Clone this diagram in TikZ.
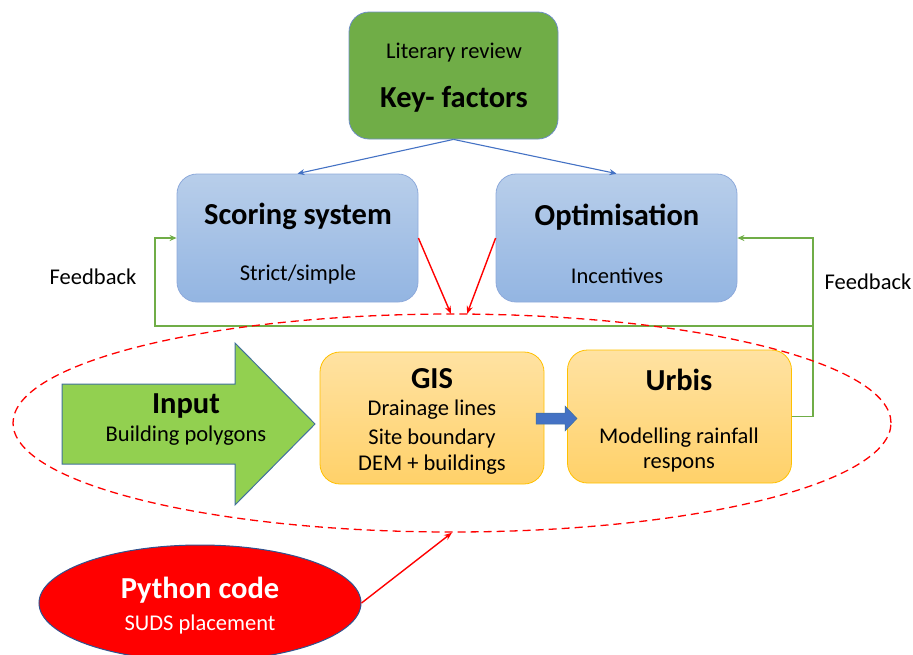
\documentclass[tikz,border=0pt]{standalone}
\usepackage{fontspec}
\setmainfont{Carlito}
\usetikzlibrary{arrows.meta,shapes.geometric}
\definecolor{kgreen}{HTML}{70AD47}
\definecolor{kborder}{HTML}{6E8EC4}
\definecolor{btop}{HTML}{B8CEEA}
\definecolor{bbot}{HTML}{93B5E2}
\definecolor{bborder}{HTML}{8EAADB}
\definecolor{otop}{HTML}{FFE2A2}
\definecolor{obot}{HTML}{FFD169}
\definecolor{oborder}{HTML}{FFC000}
\definecolor{igreen}{HTML}{92D050}
\definecolor{iborder}{HTML}{41719C}
\definecolor{lblue}{HTML}{4472C4}
\definecolor{fbgreen}{HTML}{70AD47}
\definecolor{pborder}{HTML}{2F528F}
\tikzset{
  keybox/.style={draw=kborder, line width=0.8pt, fill=kgreen, rounded corners=20pt, minimum width=209pt, minimum height=127pt},
  bluebox/.style={draw=bborder, line width=0.8pt, top color=btop, bottom color=bbot, rounded corners=20pt, minimum width=241pt, minimum height=128pt},
  orangebox/.style={draw=oborder, line width=0.8pt, top color=otop, bottom color=obot, rounded corners=20pt, minimum width=224pt, minimum height=132pt},
  small/.style={font=\fontsize{22.5}{26}\selectfont, inner sep=0pt},
  big/.style={font=\fontsize{30.5}{34}\selectfont\bfseries, inner sep=0pt},
  mid/.style={font=\fontsize{30.5}{34}\selectfont\bfseries, inner sep=0pt},
  bluearrow/.style={draw=lblue, line width=1.1pt, -{Stealth[length=7pt,width=6pt]}},
  redarrow/.style={draw=red, line width=1.4pt, -{Stealth[length=8pt,width=6pt]}},
  fb/.style={draw=fbgreen, line width=1.4pt},
  fbarrow/.style={draw=fbgreen, line width=1.4pt, -{Stealth[length=7pt,width=6pt]}},
}
\begin{document}
\begin{tikzpicture}[x=1pt,y=-1pt]
\useasboundingbox (0,0) rectangle (913,654);
% top
\node[keybox] (keyf) at (453.5,75.5) {};
\node[small] (lit) at (454,53) {Literary review};
\node[big] (kf) at (454,99) {Key- factors};
% blue boxes
\node[bluebox] (score) at (297.5,238) {};
\node[big] (scoret) at (298,216) {Scoring system};
\node[small] (scores) at (298,274) {Strict/simple};
\node[bluebox] (optim) at (616.5,238) {};
\node[big] (optimt) at (617,217) {Optimisation};
\node[small] (optims) at (617,276) {Incentives};
% feedback labels
\node[small] (fbl) at (93,277) {Feedback};
\node[small] (fbr) at (868,282) {Feedback};
% feedback lines
\node[orangebox, minimum height=133pt] (urbis) at (679.5,416.5) {};
\node[orangebox] (gis) at (432,418) {};
\coordinate (fr1) at (813,416.5);
\coordinate (fr2) at (813,326);
\coordinate (fl1) at (155,326);
\coordinate (fl2) at (155,238);
\coordinate (fr3) at (813,238);
\draw[fb] (urbis.east) -- (fr1) -- (fr2);
\draw[fbarrow] (fr2) -- (fl1) -- (fl2) -- (score.west);
\draw[fbarrow] (fr2) -- (fr3) -- (optim.east);
% gis text
\node[mid] (gist) at (432,379) {GIS};
\node[small] (gis1) at (432,410) {Drainage lines};
\node[small] (gis2) at (432,438) {Site boundary};
\node[small] (gis3) at (432,465) {DEM + buildings};
% urbis text
\node[mid] (urbt) at (679,380) {Urbis};
\node[small] (urb1) at (679,438) {Modelling rainfall};
\node[small] (urb2) at (679,465) {respons};
% blue block arrow
\draw[fill=lblue, draw=iborder, line width=0.5pt] (536,413) -- (565,413) -- (565,406) -- (577,418.5) -- (565,431) -- (565,424) -- (536,424) -- cycle;
% input arrow
\draw[fill=igreen, draw=iborder, line width=1pt] (62,384) -- (235,384) -- (235,343) -- (315,424) -- (235,505) -- (235,464) -- (62,464) -- cycle;
\node[mid] (inp) at (186,406) {Input};
\node[small] (inps) at (186,436) {Building polygons};
% dashed ellipse
\node[draw=red, dash pattern=on 8pt off 5pt, line width=1.3pt, ellipse, minimum width=878pt, minimum height=218pt, inner sep=0pt] (loop) at (452,423) {};
\coordinate (t1) at (451,314);
\coordinate (t2) at (467,314);
% python
\node[ellipse, fill=red, draw=pborder, line width=1pt, minimum width=322pt, minimum height=116pt, inner sep=0pt] (py) at (200,603) {};
\node[big, text=white] (pyt) at (200,590) {Python code};
\node[small, text=white] (pys) at (200,624) {SUDS placement};
% arrows
\draw[bluearrow] (keyf.south) -- (score.north);
\draw[bluearrow] (keyf.south) -- (optim.north);
\draw[redarrow] (score.east) -- (t1);
\draw[redarrow] (optim.west) -- (t2);
\draw[redarrow] (py.east) -- (loop.south);
\end{tikzpicture}
\end{document}
